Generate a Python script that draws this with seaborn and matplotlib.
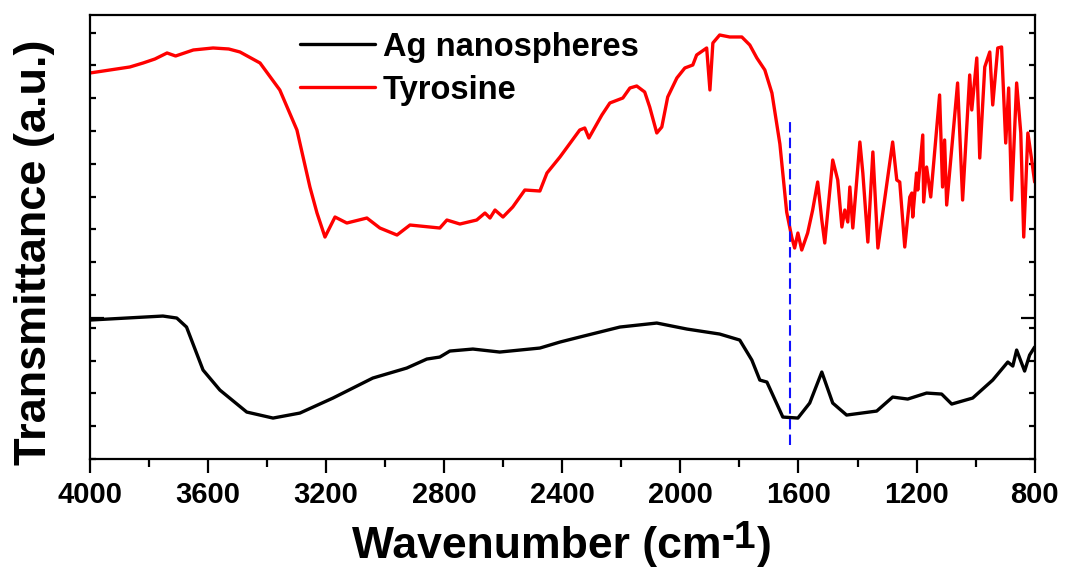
import numpy as np
import pandas as pd
import matplotlib
matplotlib.use("Agg")
import matplotlib.pyplot as plt
import seaborn as sns
from matplotlib.ticker import MultipleLocator, FixedLocator, NullFormatter

# ---- data (wavenumber in cm-1, transmittance in arbitrary units) ----
tyr_wn = [4000, 3865, 3820, 3780, 3739, 3710, 3650, 3583, 3530, 3492, 3424, 3357, 3299, 3255, 3231, 3204,
          3170, 3130, 3062, 3018, 2960, 2916, 2815, 2791, 2747, 2690, 2662, 2645, 2628,
          2601, 2568, 2527, 2476, 2452, 2408, 2341, 2324, 2310, 2266, 2239, 2195, 2171,
          2148, 2121, 2104, 2080, 2063, 2043, 2012, 1985, 1958, 1945, 1911, 1900, 1890,
          1867, 1833, 1792, 1765, 1741, 1714, 1690, 1663, 1640, 1623, 1613, 1602, 1589,
          1569, 1552, 1535, 1521, 1511, 1484, 1467, 1453, 1443, 1433, 1426, 1416, 1392,
          1382, 1365, 1348, 1331, 1281, 1267, 1257, 1240, 1223, 1216, 1213, 1200, 1196,
          1179, 1176, 1166, 1152, 1122, 1112, 1105, 1098, 1061, 1044, 1020, 1013, 996,
          986, 969, 952, 942, 925, 912, 898, 888, 878, 861, 847, 837, 823, 810, 800]
tyr_t = [386, 392, 396, 400, 406, 403, 409, 411, 410, 407, 396, 369, 329, 272, 246, 222,
         242, 236, 241, 231, 224, 234, 231, 239, 235, 239, 246, 241, 249,
         242, 252, 269, 268, 286, 302, 329, 331, 321, 344, 356, 361, 371,
         373, 367, 352, 326, 332, 362, 381, 391, 394, 404, 411, 369, 416,
         424, 422, 422, 414, 401, 389, 366, 315, 247, 222, 211, 226, 209,
         226, 249, 277, 239, 216, 299, 279, 232, 249, 237, 272, 231, 317,
         286, 217, 307, 211, 317, 279, 277, 212, 262, 266, 242, 286, 269,
         324, 257, 292, 262, 364, 272, 319, 254, 376, 259, 384, 349, 401,
         301, 392, 407, 354, 411, 412, 316, 371, 259, 376, 326, 222, 326, 299, 277]

ag_wn = [4000, 3753, 3706, 3673, 3617, 3560, 3469, 3380, 3289, 3177, 3042, 2927, 2859,
         2815, 2781, 2703, 2612, 2476, 2408, 2341, 2205, 2080, 1978, 1867, 1799, 1758,
         1731, 1707, 1653, 1602, 1562, 1521, 1484, 1437, 1335, 1281, 1230, 1166, 1115,
         1081, 1010, 942, 891, 874, 861, 834, 817, 800]
ag_t = [139, 143, 141, 132, 89, 69, 47, 41, 46, 61, 81, 91, 100,
        102, 108, 110, 107, 111, 117, 122, 132, 136, 130, 125, 119, 99,
        79, 77, 42, 41, 56, 87, 56, 44, 48, 62, 60, 66, 65,
        55, 61, 79, 97, 93, 109, 88, 104, 112]

series_names = ["Ag nanospheres", "Tyrosine"]
marker_wn = [1630]
marker_range = [14, 342]
x_ticks = [4000, 3600, 3200, 2800, 2400, 2000, 1600, 1200, 800]
xlabel_parts = ["Wavenumber (cm", "-1", ")"]

df = pd.concat([
    pd.DataFrame({"wn": ag_wn, "T": ag_t, "sample": series_names[0]}),
    pd.DataFrame({"wn": tyr_wn, "T": tyr_t, "sample": series_names[1]}),
])

sns.set_style("ticks")
plt.rcParams["font.family"] = ["Liberation Sans", "DejaVu Sans"]
plt.rcParams["font.weight"] = "bold"
for k in ["text.color", "axes.labelcolor", "xtick.color", "ytick.color", "axes.edgecolor"]:
    plt.rcParams[k] = "black"

W, H = 1065, 576
fig = plt.figure(figsize=(W / 100, H / 100), dpi=100)
ax = fig.add_axes([0.0845, 0.203, 0.887, 0.771])

sns.lineplot(data=df, x="wn", y="T", hue="sample", hue_order=series_names,
             palette=["#000000", "#ff0000"], linewidth=2.4, ax=ax, legend=True,
             estimator=None, sort=False)

ax.vlines(marker_wn, marker_range[0], marker_range[1], colors="#1010ff",
          linestyles=(0, (5, 2.5)), linewidth=1.5)

ax.set_xlim(4000, 800)
ax.set_ylim(0, 444)
ax.xaxis.set_major_locator(FixedLocator(x_ticks))
ax.xaxis.set_minor_locator(MultipleLocator(200))
ax.set_xticklabels([str(t) for t in x_ticks], fontsize=21, fontweight="bold")

ax.yaxis.set_major_locator(FixedLocator([141]))
ax.yaxis.set_minor_locator(FixedLocator(list(np.arange(0, 444, 32.8))))
ax.yaxis.set_major_formatter(NullFormatter())

for s in ax.spines.values():
    s.set_visible(True)
    s.set_linewidth(1.6)
    s.set_color("black")

ax.tick_params(axis="x", which="major", direction="out", length=10, width=1.6, pad=6)
ax.tick_params(axis="x", which="minor", direction="out", length=6, width=1.6)
ax.tick_params(axis="y", which="major", direction="in", length=10, width=1.6,
               left=True, right=True)
ax.tick_params(axis="y", which="minor", direction="in", length=4, width=1.6,
               left=True, right=True)

ax.set_xlabel("")
ax.set_ylabel("Transmittance (a.u.)", fontsize=32.5, fontweight="bold")
ax.yaxis.set_label_coords(-0.037, 0.466)

leg = ax.legend(loc="upper left", bbox_to_anchor=(0.222, 0.962), frameon=False,
                handlelength=2.3, handletextpad=0.25, labelspacing=0.36,
                borderpad=0, borderaxespad=0, prop={"weight": "bold", "size": 23.5})
for line in leg.get_lines():
    line.set_linewidth(2.4)

# x label in pieces: plain hyphen superscript, as in the original
renderer = fig.canvas.get_renderer()
base = 558
t1 = fig.text(352 / W, 1 - base / H, xlabel_parts[0], fontsize=32,
              fontweight="bold", ha="left", va="baseline")
x1 = t1.get_window_extent(renderer).x1
t2 = fig.text(x1 / W, 1 - (base - 10) / H, xlabel_parts[1], fontsize=28,
              fontweight="bold", ha="left", va="baseline")
x2 = t2.get_window_extent(renderer).x1
t3 = fig.text((x2 + 1) / W, 1 - base / H, xlabel_parts[2], fontsize=32,
              fontweight="bold", ha="left", va="baseline")

fig.savefig("out.png", dpi=100)
